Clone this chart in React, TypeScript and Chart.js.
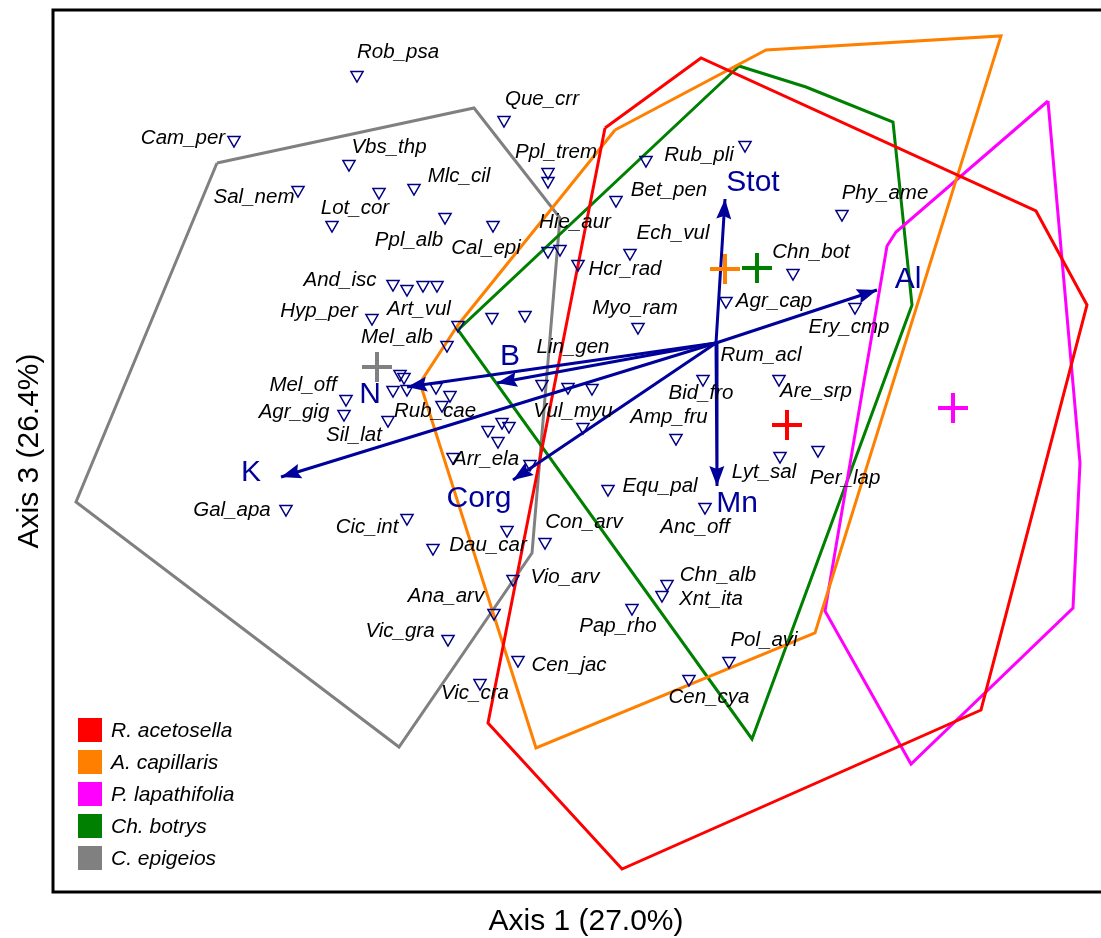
import React, { useEffect, useRef } from "react";
import { Chart, registerables } from "chart.js";

Chart.register(...registerables);

// ---------- data (ordination scores, arbitrary units) ----------
const X_MIN = -6.63;
const X_MAX = 3.85;
const Y_MIN = -5.49;
const Y_MAX = 3.33;

const AXIS_X_TITLE = "Axis 1 (27.0%)";
const AXIS_Y_TITLE = "Axis 3 (26.4%)";

// species scores (open triangles)
const speciesPoints: [number, number][] = [
  [-3.59, 2.68], [-2.12, 2.23], [-4.82, 2.03], [-3.67, 1.79], [-4.18, 1.53],
  [-3.37, 1.51], [-3.02, 1.55], [-2.71, 1.26], [-2.23, 1.18], [-3.84, 1.18],
  [-1.68, 1.71], [-1.68, 1.62], [-1.0, 1.43], [-1.68, 0.92], [-1.56, 0.94],
  [-1.38, 0.79], [-0.86, 0.9], [0.29, 1.98], [-0.7, 1.83], [1.26, 1.29],
  [0.77, 0.7], [0.1, 0.42], [1.39, 0.36], [-3.23, 0.59], [-3.09, 0.54],
  [-2.93, 0.58], [-2.79, 0.58], [-3.44, 0.25], [-2.58, 0.18], [-2.24, 0.26],
  [-1.91, 0.28], [-0.78, 0.16], [-2.69, -0.02], [-3.16, -0.31], [-3.12, -0.34],
  [-3.23, -0.47], [-3.09, -0.46], [-2.8, -0.44], [-2.66, -0.52], [-2.74, -0.62],
  [-3.7, -0.56], [-3.72, -0.71], [-3.28, -0.77], [-1.74, -0.41], [-1.48, -0.44],
  [-1.24, -0.45], [-0.13, -0.36], [0.63, -0.36], [-1.33, -0.84], [-2.28, -0.87],
  [-2.14, -0.79], [-2.07, -0.83], [-2.18, -0.98], [-0.4, -0.95], [-2.63, -1.14],
  [-1.86, -1.21], [0.64, -1.13], [1.02, -1.07], [-1.08, -1.46], [-0.11, -1.64],
  [-4.3, -1.66], [-3.09, -1.75], [-2.09, -1.87], [-2.83, -2.05], [-1.71, -1.99],
  [-2.03, -2.36], [-0.49, -2.41], [-0.54, -2.52], [-2.22, -2.7], [-2.68, -2.96],
  [-0.84, -2.65], [-1.98, -3.17], [-2.36, -3.4], [0.13, -3.18], [-0.27, -3.36],
];

// species label names and their label anchor (centre of text)
const speciesLabels: [string, number, number][] = [
  ["Rob_psa", -3.18, 2.91], ["Que_crr", -1.74, 2.44], ["Cam_per", -5.33, 2.05],
  ["Vbs_thp", -3.27, 1.96], ["Ppl_trem", -1.6, 1.91], ["Rub_pli", -0.17, 1.88],
  ["Mlc_cil", -2.57, 1.67], ["Sal_nem", -4.62, 1.46], ["Bet_pen", -0.47, 1.53],
  ["Phy_ame", 1.69, 1.5], ["Lot_cor", -3.61, 1.35], ["Hie_aur", -1.41, 1.21],
  ["Ech_vul", -0.43, 1.1], ["Ppl_alb", -3.07, 1.03], ["Cal_epi", -2.3, 0.95],
  ["Chn_bot", 0.95, 0.91], ["Hcr_rad", -0.91, 0.74], ["And_isc", -3.76, 0.63],
  ["Agr_cap", 0.58, 0.42], ["Hyp_per", -3.97, 0.32], ["Art_vul", -2.97, 0.34],
  ["Myo_ram", -0.81, 0.35], ["Ery_cmp", 1.33, 0.16], ["Mel_alb", -3.19, 0.06],
  ["Lin_gen", -1.43, -0.04], ["Rum_acl", 0.45, -0.12], ["Mel_off", -4.13, -0.42],
  ["Are_srp", 1.0, -0.48], ["Bid_fro", -0.15, -0.5], ["Agr_gig", -4.22, -0.69],
  ["Rub_cae", -2.81, -0.68], ["Vul_myu", -1.43, -0.68], ["Amp_fru", -0.47, -0.74],
  ["Sil_lat", -3.62, -0.92], ["Arr_ela", -2.3, -1.16], ["Lyt_sal", 0.48, -1.29],
  ["Per_lap", 1.29, -1.35], ["Equ_pal", -0.56, -1.43], ["Gal_apa", -4.84, -1.67],
  ["Con_arv", -1.32, -1.79], ["Cic_int", -3.49, -1.84], ["Anc_off", -0.21, -1.84],
  ["Dau_car", -2.28, -2.02], ["Vio_arv", -1.51, -2.34], ["Chn_alb", 0.02, -2.32],
  ["Ana_arv", -2.7, -2.53], ["Xnt_ita", -0.05, -2.56], ["Pap_rho", -0.98, -2.83],
  ["Vic_gra", -3.16, -2.88], ["Pol_avi", 0.48, -2.97], ["Cen_jac", -1.47, -3.22],
  ["Vic_cra", -2.41, -3.5], ["Cen_cya", -0.07, -3.54],
];

// environmental vectors
const vectorNames = ["Stot", "Al", "B", "N", "K", "Corg", "Mn"];
const vectorTips: [number, number][] = [
  [0.09, 1.44], [1.61, 0.53], [-2.19, -0.4], [-3.09, -0.44],
  [-4.35, -1.34], [-2.03, -1.37], [0.01, -1.43],
];
const vectorLabelPos: [number, number][] = [
  [0.37, 1.6], [1.92, 0.63], [-2.06, -0.14], [-3.46, -0.52],
  [-4.65, -1.3], [-2.37, -1.56], [0.21, -1.61],
];

// dominant-species groups: hulls and centroids
const groupNames = ["R. acetosella", "A. capillaris", "P. lapathifolia", "Ch. botrys", "C. epigeios"];
const hullRacetosella: [number, number][] = [
  [-1.11, 2.15], [-0.15, 2.85], [3.2, 1.32], [3.71, 0.38], [2.65, -3.67], [-0.94, -5.26], [-2.28, -3.8],
];
const hullAcapillaris: [number, number][] = [
  [-1.01, 2.13], [0.5, 2.93], [2.85, 3.07], [0.99, -2.9], [-1.8, -4.05], [-2.96, -0.4], [-2.58, 0.18],
];
const hullPlapathifolia: [number, number][] = [
  [3.32, 2.42], [3.64, -1.2], [3.57, -2.65], [1.95, -4.21], [1.09, -2.68], [1.71, 0.97], [1.8, 1.11],
];
const hullChbotrys: [number, number][] = [
  [0.23, 2.77], [0.9, 2.56], [1.77, 2.21], [1.96, 0.38], [0.36, -3.96], [-2.58, 0.13],
];
const hullCepigeios: [number, number][] = [
  [-4.99, 1.8], [-2.42, 2.35], [-1.56, 1.25], [-1.84, -2.1], [-3.17, -4.04], [-6.4, -1.59],
];
const groupCentroids: [number, number][] = [
  [0.71, -0.82], [0.09, 0.74], [2.37, -0.65], [0.41, 0.75], [-3.39, -0.24],
];

// ---------- styles ----------
const GROUP_COLORS = ["#ff0000", "#ff8000", "#ff00ff", "#008000", "#808080"];
const NAVY = "#000080";
const ARROW = "#00009a";
const FONT = '"Liberation Sans", Arial, sans-serif';

const toXY = (p: [number, number]) => ({ x: p[0], y: p[1] });

const overlayPlugin = {
  id: "overlay",
  afterDatasetsDraw(chart: any) {
    const { ctx, chartArea } = chart;
    const xs = chart.scales.x;
    const ys = chart.scales.y;
    const px = (v: number) => xs.getPixelForValue(v);
    const py = (v: number) => ys.getPixelForValue(v);
    ctx.save();

    // arrow heads
    ctx.fillStyle = ARROW;
    vectorTips.forEach(([vx, vy]) => {
      const x0 = px(0), y0 = py(0), x1 = px(vx), y1 = py(vy);
      const a = Math.atan2(y1 - y0, x1 - x0);
      const L = 20, W = 7.5;
      const c = Math.cos(a), s = Math.sin(a);
      ctx.beginPath();
      ctx.moveTo(x1, y1);
      ctx.lineTo(x1 - L * c + W * s, y1 - L * s - W * c);
      ctx.lineTo(x1 - L * 0.85 * c, y1 - L * 0.85 * s);
      ctx.lineTo(x1 - L * c - W * s, y1 - L * s + W * c);
      ctx.closePath();
      ctx.fill();
    });

    // species labels
    ctx.fillStyle = "#000000";
    ctx.font = `italic 20.5px ${FONT}`;
    ctx.textAlign = "center";
    ctx.textBaseline = "middle";
    speciesLabels.forEach(([name, lx, ly]) => {
      ctx.fillText(name, px(lx), py(ly));
    });

    // vector labels
    ctx.fillStyle = ARROW;
    ctx.font = `30px ${FONT}`;
    vectorNames.forEach((name, i) => {
      const [lx, ly] = vectorLabelPos[i];
      ctx.fillText(name, px(lx), py(ly));
    });

    // frame
    ctx.strokeStyle = "#000000";
    ctx.lineWidth = 3;
    ctx.beginPath();
    ctx.moveTo(chart.width, chartArea.top);
    ctx.lineTo(chartArea.left, chartArea.top);
    ctx.lineTo(chartArea.left, chartArea.bottom);
    ctx.lineTo(chart.width, chartArea.bottom);
    ctx.stroke();

    // legend
    const lx = chartArea.left + 25;
    const ly0 = chartArea.bottom - 162;
    ctx.font = `italic 21px ${FONT}`;
    ctx.textAlign = "left";
    groupNames.forEach((name, i) => {
      const cy = ly0 + i * 32;
      ctx.fillStyle = GROUP_COLORS[i];
      ctx.fillRect(lx, cy - 12, 24, 24);
      ctx.fillStyle = "#000000";
      ctx.fillText(name, lx + 33, cy + 1);
    });

    // axis titles
    ctx.fillStyle = "#000000";
    ctx.font = `30px ${FONT}`;
    ctx.textAlign = "center";
    ctx.fillText(AXIS_X_TITLE, (chartArea.left + chart.width) / 2 + 9, chartArea.bottom + 30);
    ctx.translate(30, (chartArea.top + chartArea.bottom) / 2);
    ctx.rotate(-Math.PI / 2);
    ctx.fillText(AXIS_Y_TITLE, 0, 0);
    ctx.restore();
  },
};

export default function App() {
  const canvasRef = useRef<HTMLCanvasElement | null>(null);

  useEffect(() => {
    const canvas = canvasRef.current;
    if (!canvas) return;
    const hulls = [hullRacetosella, hullAcapillaris, hullPlapathifolia, hullChbotrys, hullCepigeios];

    const hullSets = hulls.map((h, i) => ({
      type: "line" as const,
      label: groupNames[i],
      data: [...h, h[0]].map(toXY),
      borderColor: GROUP_COLORS[i],
      borderWidth: 3,
      pointRadius: 0,
      tension: 0,
      fill: false,
      showLine: true,
      order: 10,
    }));

    const arrowSets = vectorTips.map((t, i) => ({
      type: "line" as const,
      label: vectorNames[i],
      data: [{ x: 0, y: 0 }, toXY(t)],
      borderColor: ARROW,
      borderWidth: 3,
      pointRadius: 0,
      tension: 0,
      fill: false,
      showLine: true,
      order: 2,
    }));

    const chart = new Chart(canvas, {
      type: "scatter",
      data: {
        datasets: [
          ...hullSets,
          {
            label: "species",
            data: speciesPoints.map(toXY),
            pointStyle: "triangle",
            rotation: 180,
            pointRadius: 7,
            borderColor: NAVY,
            backgroundColor: "rgba(0,0,0,0)",
            borderWidth: 1.5,
            order: 5,
          } as any,
          ...arrowSets,
          {
            label: "centroids",
            data: groupCentroids.map(toXY),
            pointStyle: "cross",
            pointRadius: 15,
            borderColor: GROUP_COLORS,
            borderWidth: 4,
            order: 1,
          } as any,
        ],
      },
      options: {
        responsive: false,
        animation: false,
        events: [],
        layout: { autoPadding: false, padding: { left: 53, right: 0, top: 10, bottom: 46 } },
        scales: {
          x: { type: "linear", min: X_MIN, max: X_MAX, display: false },
          y: { type: "linear", min: Y_MIN, max: Y_MAX, display: false },
        },
        plugins: { legend: { display: false }, tooltip: { enabled: false } },
      },
      plugins: [overlayPlugin],
    });
    return () => chart.destroy();
  }, []);

  return (
    <div style={{ position: "absolute", left: 0, top: 0, width: 1101, height: 938, background: "#fff" }}>
      <canvas ref={canvasRef} width={1101} height={938} style={{ display: "block" }} />
    </div>
  );
}
